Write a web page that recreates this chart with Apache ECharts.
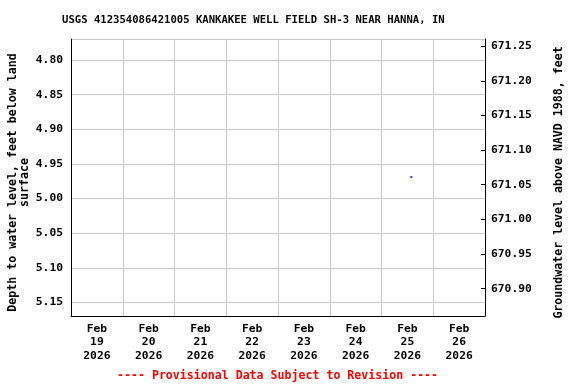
<!DOCTYPE html>
<html>
<head>
<meta charset="utf-8">
<script src="https://cdn.jsdelivr.net/npm/echarts@6/dist/echarts.min.js"></script>
<style>html,body{margin:0;padding:0;background:#fff}#c{width:576px;height:384px}</style>
</head>
<body>
<div id="c"></div>
<script>
// ---- data ----
const titleText = 'USGS 412354086421005 KANKAKEE WELL FIELD SH-3 NEAR HANNA, IN';
const footerText = '---- Provisional Data Subject to Revision ----';
const dayLabels = ['Feb\n19\n2026','Feb\n20\n2026','Feb\n21\n2026','Feb\n22\n2026','Feb\n23\n2026','Feb\n24\n2026','Feb\n25\n2026','Feb\n26\n2026'];
const obsTimes = ['2026-02-25T13:50:00Z'];
const obsDepth = [4.969];
const leftTicks = [4.80, 4.85, 4.90, 4.95, 5.00, 5.05, 5.10, 5.15];
const rightTicks = [670.90, 670.95, 671.00, 671.05, 671.10, 671.15, 671.20, 671.25];
const depthMin = 4.7697, depthMax = 5.1695;
const datumOffset = 676.03; // elevation = datumOffset - depth
const timeMin = Date.UTC(2026, 1, 19), timeMax = Date.UTC(2026, 1, 27);

const FONT = 'DejaVu Sans Mono';
function onTick(list) {
  return function (v) {
    for (const t of list) if (Math.abs(v - t) < 1e-6) return t.toFixed(2);
    return '';
  };
}

const chart = echarts.init(document.getElementById('c'), null, {renderer: 'canvas'});
chart.setOption({
  animation: false,
  backgroundColor: '#ffffff',
  textStyle: {fontFamily: FONT, fontWeight: 'bold', color: '#000'},
  title: [
    {text: titleText, left: 62, top: 15, padding: 0, textStyle: {fontFamily: FONT, fontWeight: 'bold', fontSize: 10.6, color: '#000'}},
    {text: footerText, left: 117, top: 370, padding: 0, textStyle: {fontFamily: FONT, fontWeight: 'bold', fontSize: 11.6, color: '#ff0000'}}
  ],
  grid: {left: 71, right: 91, top: 39, bottom: 68, containLabel: false, outerBoundsMode: 'none'},
  xAxis: [
    {
      type: 'category', data: dayLabels, boundaryGap: true,
      axisLine: {show: true, lineStyle: {color: '#000', width: 1}},
      axisTick: {show: false},
      splitLine: {show: true, interval: 0, lineStyle: {color: '#cccccc', width: 1}},
      axisLabel: {interval: 0, margin: 6, fontFamily: FONT, fontWeight: 'bold', fontSize: 11.3, lineHeight: 13.5, color: '#000'}
    },
    {type: 'value', min: timeMin, max: timeMax, show: false}
  ],
  yAxis: [
    {
      type: 'value', inverse: true, min: depthMin, max: depthMax, splitNumber: 8,
      name: 'Depth to water level, feet below land\nsurface',
      nameLocation: 'middle', nameRotate: 90, nameGap: 40, nameMoveOverlap: false,
      nameTextStyle: {fontFamily: FONT, fontWeight: 'bold', fontSize: 11.6, lineHeight: 12, color: '#000', padding: [0, 10, 0, 0]},
      axisLine: {show: true, lineStyle: {color: '#000', width: 1}},
      axisTick: {show: false},
      splitLine: {show: true, lineStyle: {color: '#cccccc', width: 1}},
      axisLabel: {margin: 8, formatter: onTick(leftTicks), fontFamily: FONT, fontWeight: 'bold', fontSize: 11.3, color: '#000', showMinLabel: false, showMaxLabel: false}
    },
    {
      type: 'value', position: 'right', inverse: false,
      min: +(datumOffset - depthMax).toFixed(4), max: +(datumOffset - depthMin).toFixed(4), splitNumber: 8,
      name: 'Groundwater level above NAVD 1988, feet',
      nameLocation: 'middle', nameRotate: 90, nameGap: 68, nameMoveOverlap: false,
      nameTextStyle: {fontFamily: FONT, fontWeight: 'bold', fontSize: 11.6, color: '#000', padding: [0, 10, 0, 0]},
      axisLine: {show: true, lineStyle: {color: '#000', width: 1}},
      axisTick: {show: true, inside: true, length: 4, lineStyle: {color: '#000'}},
      splitLine: {show: false},
      axisLabel: {margin: 6, formatter: onTick(rightTicks), fontFamily: FONT, fontWeight: 'bold', fontSize: 11.3, color: '#000', showMinLabel: false, showMaxLabel: false}
    }
  ],
  series: [{
    type: 'scatter', xAxisIndex: 1, yAxisIndex: 0,
    symbol: 'rect', symbolSize: 2,
    itemStyle: {color: '#0000cc'},
    data: obsTimes.map((t, i) => [Date.parse(t), obsDepth[i]])
  }]
});
</script>
</body>
</html>
